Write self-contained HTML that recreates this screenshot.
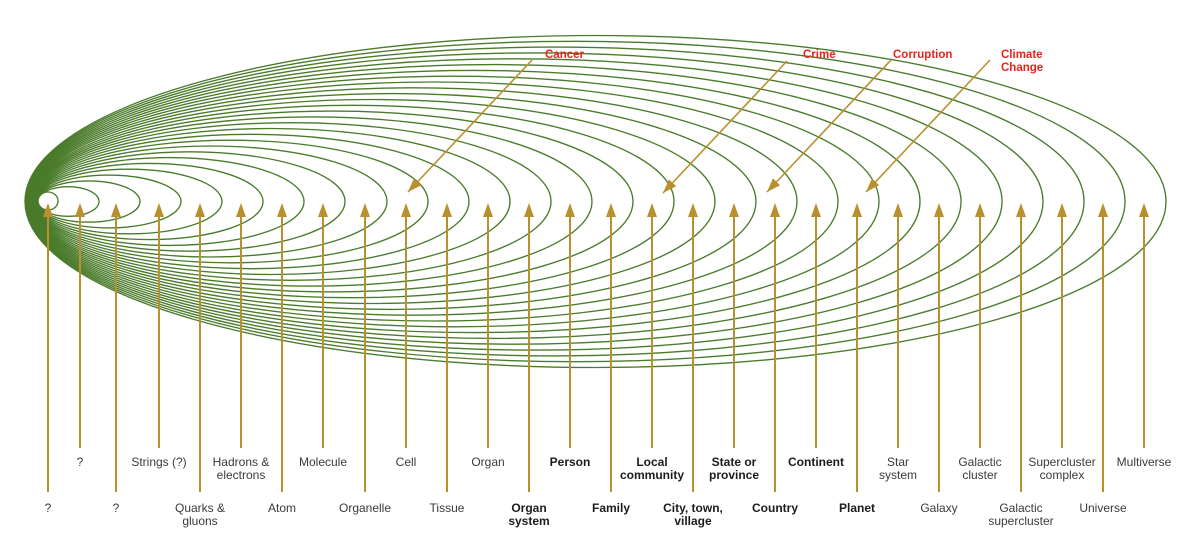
<!DOCTYPE html>
<html>
<head>
<meta charset="utf-8">
<style>
html,body{margin:0;padding:0;background:#fff;}
svg{display:block;}
.lab{font-family:"Liberation Sans",Arial,sans-serif;font-size:12px;fill:#3a3a3a;text-anchor:middle;}
.b{font-weight:bold;fill:#1c1c1c;}
.red{font-family:"Liberation Sans",Arial,sans-serif;font-size:11.5px;font-weight:bold;fill:#e5251d;}
</style>
</head>
<body>
<svg width="1200" height="556" viewBox="0 0 1200 556" xmlns="http://www.w3.org/2000/svg">
<defs>
<marker id="ah" markerUnits="userSpaceOnUse" markerWidth="14" markerHeight="10" refX="14" refY="5" orient="auto">
<path d="M0,0 L14,5 L0,10 z" fill="#b8902e"/>
</marker>
</defs>
<g fill="none" stroke="#4a7b2b" stroke-width="1.35">
<ellipse cx="48" cy="201" rx="10" ry="9"/>
<ellipse cx="68.26" cy="201.5" rx="30.74" ry="14.8"/>
<ellipse cx="88.52" cy="201.5" rx="51.48" ry="20.6"/>
<ellipse cx="108.78" cy="201.5" rx="72.22" ry="26.4"/>
<ellipse cx="129.04" cy="201.5" rx="92.96" ry="32.3"/>
<ellipse cx="149.3" cy="201.5" rx="113.7" ry="38.1"/>
<ellipse cx="169.56" cy="201.5" rx="134.44" ry="43.9"/>
<ellipse cx="189.8" cy="201.5" rx="155.2" ry="49.7"/>
<ellipse cx="210.58" cy="201.5" rx="176.42" ry="55.5"/>
<ellipse cx="230.84" cy="201.5" rx="197.16" ry="61.3"/>
<ellipse cx="251.1" cy="201.5" rx="217.9" ry="67.2"/>
<ellipse cx="271.35" cy="201.5" rx="238.65" ry="73.0"/>
<ellipse cx="291.61" cy="201.5" rx="259.39" ry="78.8"/>
<ellipse cx="311.87" cy="201.5" rx="280.13" ry="84.6"/>
<ellipse cx="332.13" cy="201.5" rx="300.87" ry="90.4"/>
<ellipse cx="352.39" cy="201.5" rx="321.61" ry="96.2"/>
<ellipse cx="372.65" cy="201.5" rx="342.35" ry="102.0"/>
<ellipse cx="392.9" cy="201.5" rx="363.1" ry="107.9"/>
<ellipse cx="413.17" cy="201.5" rx="383.83" ry="113.7"/>
<ellipse cx="433.43" cy="201.5" rx="404.57" ry="119.5"/>
<ellipse cx="453.69" cy="201.5" rx="425.31" ry="125.3"/>
<ellipse cx="473.95" cy="201.5" rx="446.05" ry="131.1"/>
<ellipse cx="494.2" cy="201.5" rx="466.8" ry="136.9"/>
<ellipse cx="514.46" cy="201.5" rx="487.54" ry="142.7"/>
<ellipse cx="534.72" cy="201.5" rx="508.28" ry="148.6"/>
<ellipse cx="554.98" cy="201.5" rx="529.02" ry="154.4"/>
<ellipse cx="575.24" cy="201.5" rx="549.76" ry="160.2"/>
<ellipse cx="595.5" cy="201.5" rx="570.5" ry="166"/>
</g>

<!-- vertical arrows -->
<g stroke="#b8902e" stroke-width="2">
<line x1="48" y1="214" x2="48" y2="492"/>
<line x1="80" y1="214" x2="80" y2="448"/>
<line x1="116" y1="214" x2="116" y2="492"/>
<line x1="159" y1="214" x2="159" y2="448"/>
<line x1="200" y1="214" x2="200" y2="492"/>
<line x1="241" y1="214" x2="241" y2="448"/>
<line x1="282" y1="214" x2="282" y2="492"/>
<line x1="323" y1="214" x2="323" y2="448"/>
<line x1="365" y1="214" x2="365" y2="492"/>
<line x1="406" y1="214" x2="406" y2="448"/>
<line x1="447" y1="214" x2="447" y2="492"/>
<line x1="488" y1="214" x2="488" y2="448"/>
<line x1="529" y1="214" x2="529" y2="492"/>
<line x1="570" y1="214" x2="570" y2="448"/>
<line x1="611" y1="214" x2="611" y2="492"/>
<line x1="652" y1="214" x2="652" y2="448"/>
<line x1="693" y1="214" x2="693" y2="492"/>
<line x1="734" y1="214" x2="734" y2="448"/>
<line x1="775" y1="214" x2="775" y2="492"/>
<line x1="816" y1="214" x2="816" y2="448"/>
<line x1="857" y1="214" x2="857" y2="492"/>
<line x1="898" y1="214" x2="898" y2="448"/>
<line x1="939" y1="214" x2="939" y2="492"/>
<line x1="980" y1="214" x2="980" y2="448"/>
<line x1="1021" y1="214" x2="1021" y2="492"/>
<line x1="1062" y1="214" x2="1062" y2="448"/>
<line x1="1103" y1="214" x2="1103" y2="492"/>
<line x1="1144" y1="214" x2="1144" y2="448"/>
</g>
<g fill="#b8902e">
<polygon points="48,203 53,217 43,217"/>
<polygon points="80,203 85,217 75,217"/>
<polygon points="116,203 121,217 111,217"/>
<polygon points="159,203 164,217 154,217"/>
<polygon points="200,203 205,217 195,217"/>
<polygon points="241,203 246,217 236,217"/>
<polygon points="282,203 287,217 277,217"/>
<polygon points="323,203 328,217 318,217"/>
<polygon points="365,203 370,217 360,217"/>
<polygon points="406,203 411,217 401,217"/>
<polygon points="447,203 452,217 442,217"/>
<polygon points="488,203 493,217 483,217"/>
<polygon points="529,203 534,217 524,217"/>
<polygon points="570,203 575,217 565,217"/>
<polygon points="611,203 616,217 606,217"/>
<polygon points="652,203 657,217 647,217"/>
<polygon points="693,203 698,217 688,217"/>
<polygon points="734,203 739,217 729,217"/>
<polygon points="775,203 780,217 770,217"/>
<polygon points="816,203 821,217 811,217"/>
<polygon points="857,203 862,217 852,217"/>
<polygon points="898,203 903,217 893,217"/>
<polygon points="939,203 944,217 934,217"/>
<polygon points="980,203 985,217 975,217"/>
<polygon points="1021,203 1026,217 1016,217"/>
<polygon points="1062,203 1067,217 1057,217"/>
<polygon points="1103,203 1108,217 1098,217"/>
<polygon points="1144,203 1149,217 1139,217"/>
</g>

<!-- diagonal arrows -->
<g stroke="#b8902e" stroke-width="1.6" marker-end="url(#ah)">
<line x1="532" y1="60" x2="408" y2="192"/>
<line x1="787" y1="61" x2="663" y2="193"/>
<line x1="891" y1="60" x2="767" y2="192"/>
<line x1="990" y1="60" x2="866" y2="192"/>
</g>

<!-- red labels -->
<text class="red" x="545" y="58">Cancer</text>
<text class="red" x="803" y="58">Crime</text>
<text class="red" x="893" y="58">Corruption</text>
<text class="red" x="1001" y="58">Climate</text>
<text class="red" x="1001" y="71">Change</text>

<!-- bottom labels: row 1 (short arrows) -->
<text class="lab" x="80" y="466">?</text>
<text class="lab" x="159" y="466">Strings (?)</text>
<text class="lab" x="241" y="466">Hadrons &amp;</text>
<text class="lab" x="241" y="479">electrons</text>
<text class="lab" x="323" y="466">Molecule</text>
<text class="lab" x="406" y="466">Cell</text>
<text class="lab" x="488" y="466">Organ</text>
<text class="lab b" x="570" y="466">Person</text>
<text class="lab b" x="652" y="466">Local</text>
<text class="lab b" x="652" y="479">community</text>
<text class="lab b" x="734" y="466">State or</text>
<text class="lab b" x="734" y="479">province</text>
<text class="lab b" x="816" y="466">Continent</text>
<text class="lab" x="898" y="466">Star</text>
<text class="lab" x="898" y="479">system</text>
<text class="lab" x="980" y="466">Galactic</text>
<text class="lab" x="980" y="479">cluster</text>
<text class="lab" x="1062" y="466">Supercluster</text>
<text class="lab" x="1062" y="479">complex</text>
<text class="lab" x="1144" y="466">Multiverse</text>

<!-- bottom labels: row 2 (long arrows) -->
<text class="lab" x="48" y="512">?</text>
<text class="lab" x="116" y="512">?</text>
<text class="lab" x="200" y="512">Quarks &amp;</text>
<text class="lab" x="200" y="525">gluons</text>
<text class="lab" x="282" y="512">Atom</text>
<text class="lab" x="365" y="512">Organelle</text>
<text class="lab" x="447" y="512">Tissue</text>
<text class="lab b" x="529" y="512">Organ</text>
<text class="lab b" x="529" y="525">system</text>
<text class="lab b" x="611" y="512">Family</text>
<text class="lab b" x="693" y="512">City, town,</text>
<text class="lab b" x="693" y="525">village</text>
<text class="lab b" x="775" y="512">Country</text>
<text class="lab b" x="857" y="512">Planet</text>
<text class="lab" x="939" y="512">Galaxy</text>
<text class="lab" x="1021" y="512">Galactic</text>
<text class="lab" x="1021" y="525">supercluster</text>
<text class="lab" x="1103" y="512">Universe</text>
</svg>
</body>
</html>
